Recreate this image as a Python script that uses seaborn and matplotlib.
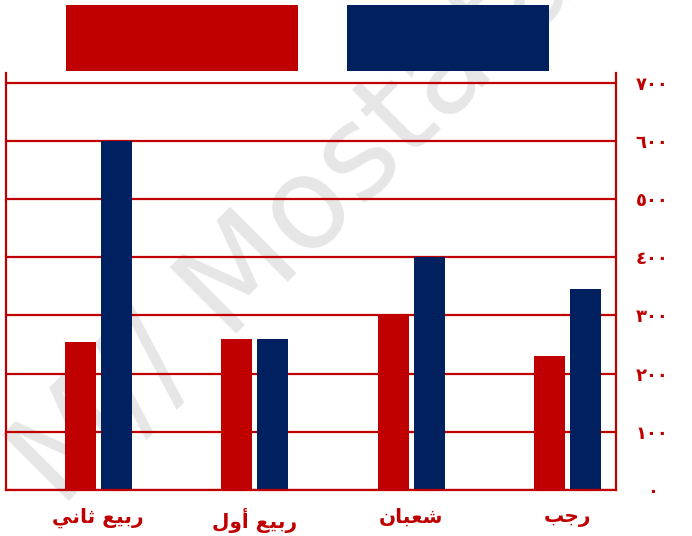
import matplotlib
matplotlib.use("Agg")
import matplotlib.pyplot as plt
from matplotlib.patches import Rectangle
import seaborn as sns
import pandas as pd

# ---- data -------------------------------------------------------------
months = ["ربيع ثاني", "ربيع أول", "شعبان", "رجب"]
series_names = ["first", "second"]
values_first = [255, 260, 300, 230]
values_second = [600, 260, 400, 345]
y_ticks = [0, 100, 200, 300, 400, 500, 600, 700]

RED = "#C00000"
NAVY = "#002060"

# ---- Arabic shaping (presentation forms, right-to-left) -----------------
FORMS = {
    "\u0627": ("\uFE8D", "\uFE8E", None, None),
    "\u0623": ("\uFE83", "\uFE84", None, None),
    "\u0628": ("\uFE8F", "\uFE90", "\uFE91", "\uFE92"),
    "\u062B": ("\uFE99", "\uFE9A", "\uFE9B", "\uFE9C"),
    "\u062C": ("\uFE9D", "\uFE9E", "\uFE9F", "\uFEA0"),
    "\u0631": ("\uFEAD", "\uFEAE", None, None),
    "\u0634": ("\uFEB5", "\uFEB6", "\uFEB7", "\uFEB8"),
    "\u0639": ("\uFEC9", "\uFECA", "\uFECB", "\uFECC"),
    "\u0644": ("\uFEDD", "\uFEDE", "\uFEDF", "\uFEE0"),
    "\u0646": ("\uFEE5", "\uFEE6", "\uFEE7", "\uFEE8"),
    "\u0648": ("\uFEED", "\uFEEE", None, None),
    "\u064A": ("\uFEF1", "\uFEF2", "\uFEF3", "\uFEF4"),
}


def shape(text):
    chars = list(text)
    out = []
    for i, c in enumerate(chars):
        if c not in FORMS:
            out.append(c)
            continue
        iso, fin, ini, med = FORMS[c]
        prev = chars[i - 1] if i > 0 else None
        nxt = chars[i + 1] if i + 1 < len(chars) else None
        join_prev = prev in FORMS and FORMS[prev][2] is not None
        join_next = ini is not None and nxt in FORMS
        if join_prev and join_next:
            out.append(med)
        elif join_prev:
            out.append(fin)
        elif join_next:
            out.append(ini)
        else:
            out.append(iso)
    return "".join(reversed(out))


INDIC = str.maketrans("0123456789", "٠١٢٣٤٥٦٧٨٩")

df = pd.DataFrame({
    "month": months * 2,
    "series": [series_names[0]] * len(months) + [series_names[1]] * len(months),
    "value": values_first + values_second,
})

# ---- figure -------------------------------------------------------------
sns.set_theme(style="white")
plt.rcParams["font.family"] = ["DejaVu Sans"]

W, H = 692, 536
fig = plt.figure(figsize=(W / 100, H / 100), dpi=100)
fig.patch.set_facecolor("white")
ax = fig.add_axes([6 / W, 1 - 490 / H, (616 - 6) / W, (490 - 72.7) / H])
ax.set_facecolor("white")

sns.barplot(
    data=df, x="month", y="value", hue="series", order=months,
    hue_order=series_names, palette=[RED, NAVY], saturation=1,
    width=0.46, gap=0.14, linewidth=0, legend=False, ax=ax, zorder=2,
)

ax.set_ylim(0, 717)
ax.set_xlim(-0.59, 3.31)

# horizontal grid
ax.set_axisbelow(True)
ax.set_yticks(y_ticks)
ax.yaxis.grid(True, color=RED, linewidth=1.6, zorder=0.5)
ax.xaxis.grid(False)

# axis frame
for side in ("left", "right", "bottom"):
    ax.spines[side].set_visible(True)
    ax.spines[side].set_color(RED)
    ax.spines[side].set_linewidth(1.6)
    ax.spines[side].set_zorder(3)
ax.spines["top"].set_visible(False)

ax.yaxis.tick_right()
ax.set_yticklabels([str(v).translate(INDIC) for v in y_ticks],
                   fontsize=13, fontweight="bold", color=RED, ha="center")
ax.tick_params(axis="y", length=0, pad=26)

ax.set_xticks(range(len(months)))
ax.set_xticklabels([shape(m) for m in months], fontsize=14.5,
                   fontweight="bold", color=RED)
ax.tick_params(axis="x", length=0, pad=13)
ax.set_xlabel("")
ax.set_ylabel("")

# watermark
ax.text(298 / W, 1 - 222 / H, "M// Mostafa", transform=fig.transFigure,
        rotation=45, rotation_mode="anchor", ha="center", va="center",
        fontsize=92, color="#e6e6e6", zorder=0.2, clip_on=False)

# legend swatches
fig.add_artist(Rectangle((66 / W, 1 - 71 / H), (298 - 66) / W, 66 / H,
                         transform=fig.transFigure, facecolor=RED,
                         edgecolor="none", zorder=5))
fig.add_artist(Rectangle((347 / W, 1 - 71 / H), (549 - 347) / W, 66 / H,
                         transform=fig.transFigure, facecolor=NAVY,
                         edgecolor="none", zorder=5))

fig.savefig("out.png", dpi=100)
